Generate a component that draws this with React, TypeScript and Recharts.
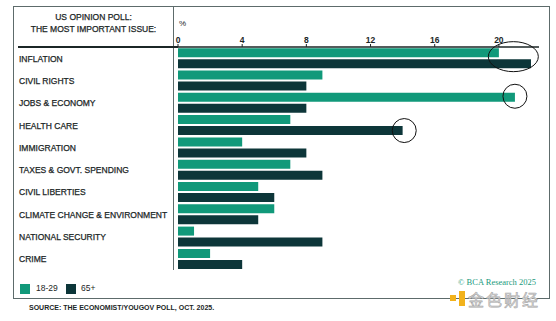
import { BarChart, Bar, XAxis, YAxis, ReferenceDot } from "recharts";

const categories = [
  "INFLATION",
  "CIVIL RIGHTS",
  "JOBS & ECONOMY",
  "HEALTH CARE",
  "IMMIGRATION",
  "TAXES & GOVT. SPENDING",
  "CIVIL LIBERTIES",
  "CLIMATE CHANGE & ENVIRONMENT",
  "NATIONAL SECURITY",
  "CRIME",
];
const young = [20, 9, 21, 7, 4, 7, 5, 6, 1, 2];
const old = [22, 8, 8, 14, 8, 9, 6, 5, 9, 4];
const xTicks = [0, 4, 8, 12, 16, 20];

const GREEN = "#11997a";
const DARK = "#0d3639";
const TEXT = "#1b2626";
const FONT = "'Liberation Sans', Arial, sans-serif";

const data = categories.map((name, i) => ({ name, young: young[i], old: old[i] }));

const CategoryTick = ({ y, payload }: any) => (
  <text
    x={19}
    y={y}
    dy={3.5}
    fontSize={8.5}
    fontFamily={FONT}
    fill={TEXT}
    stroke={TEXT}
    strokeWidth={0.25}
  >
    {payload.value}
  </text>
);

const Ellipse = (rx: number, ry: number, dy: number) => (props: any) => (
  <ellipse
    cx={props.cx}
    cy={props.cy + dy}
    rx={rx}
    ry={ry}
    fill="none"
    stroke="#111"
    strokeWidth={1}
  />
);

export default function App() {
  return (
    <div
      style={{
        position: "absolute",
        left: 0,
        top: 0,
        width: 556,
        height: 321,
        background: "#fff",
        fontFamily: FONT,
        color: TEXT,
      }}
    >
      {/* frame */}
      <div
        style={{
          position: "absolute",
          left: 13,
          top: 6,
          width: 535,
          height: 291,
          border: "1px solid #5d6b6b",
        }}
      />
      {/* divider */}
      <div style={{ position: "absolute", left: 173, top: 7, width: 1, height: 263, background: "#5d6b6b" }} />
      {/* header rule left of the plot */}
      <div style={{ position: "absolute", left: 18, top: 46, width: 160, height: 1.5, background: TEXT }} />

      <div
        style={{
          position: "absolute",
          left: 14,
          top: 12,
          width: 159,
          textAlign: "center",
          fontSize: 8.5,
          lineHeight: "11.5px",
          WebkitTextStroke: "0.25px " + TEXT,
        }}
      >
        US OPINION POLL:
        <br />
        THE MOST IMPORTANT ISSUE:
      </div>
      <div style={{ position: "absolute", left: 179, top: 19, fontSize: 8 }}>%</div>

      <BarChart
        width={556}
        height={321}
        data={data}
        layout="vertical"
        margin={{ top: 35, right: 17, bottom: 51, left: 18 }}
        barCategoryGap={1.2}
        barGap={2}
        style={{ position: "absolute", left: 0, top: 0 }}
      >
        <XAxis
          type="number"
          orientation="top"
          domain={[0, 22.5]}
          ticks={xTicks}
          height={12}
          tickSize={3}
          tickMargin={1}
          axisLine={{ stroke: TEXT, strokeWidth: 1.5 }}
          tickLine={{ stroke: TEXT, strokeWidth: 1 }}
          tick={{ fill: TEXT, fontSize: 8.5, fontWeight: 700, fontFamily: FONT }}
          allowDataOverflow
        />
        <YAxis
          type="category"
          dataKey="name"
          width={160}
          axisLine={false}
          tickLine={false}
          tick={<CategoryTick />}
          interval={0}
        />
        <Bar dataKey="young" fill={GREEN} isAnimationActive={false} />
        <Bar dataKey="old" fill={DARK} isAnimationActive={false} />
        <ReferenceDot x={20.9} y="INFLATION" r={1} shape={Ellipse(25, 15, -1.5)} ifOverflow="visible" />
        <ReferenceDot x={21} y="JOBS & ECONOMY" r={1} shape={Ellipse(12, 12, -6.5)} ifOverflow="visible" />
        <ReferenceDot x={14.1} y="HEALTH CARE" r={1} shape={Ellipse(12, 12, 5.5)} ifOverflow="visible" />
      </BarChart>

      {/* legend */}
      <div style={{ position: "absolute", left: 20, top: 284, width: 10, height: 10, background: GREEN }} />
      <div style={{ position: "absolute", left: 36, top: 283, fontSize: 8.5 }}>18-29</div>
      <div style={{ position: "absolute", left: 66, top: 284, width: 10, height: 10, background: DARK }} />
      <div style={{ position: "absolute", left: 81, top: 283, fontSize: 8.5 }}>65+</div>

      <div
        style={{
          position: "absolute",
          left: 458,
          top: 278,
          fontSize: 8.5,
          lineHeight: "9px",
          fontFamily: "'Liberation Serif', serif",
          color: "#1a9a7c",
        }}
      >
        © BCA Research 2025
      </div>

      {/* watermark */}
      <div style={{ position: "absolute", left: 450, top: 295, width: 6, height: 6, background: "#f2b21c" }} />
      <div style={{ position: "absolute", left: 459, top: 291, width: 6, height: 15, background: "#f2b21c" }} />
      <div
        style={{
          position: "absolute",
          left: 468,
          top: 291,
          fontSize: 16,
          lineHeight: "16px",
          fontFamily: "'Noto Sans CJK SC', sans-serif",
          color: "#e4e4e4",
          WebkitTextStroke: "0.6px #a9a9a9",
          letterSpacing: 2,
        }}
      >
        金色财经
      </div>

      <div
        style={{
          position: "absolute",
          left: 29,
          top: 304,
          fontSize: 7,
          fontWeight: 700,
        }}
      >
        SOURCE: THE ECONOMIST/YOUGOV POLL, OCT. 2025.
      </div>
    </div>
  );
}
